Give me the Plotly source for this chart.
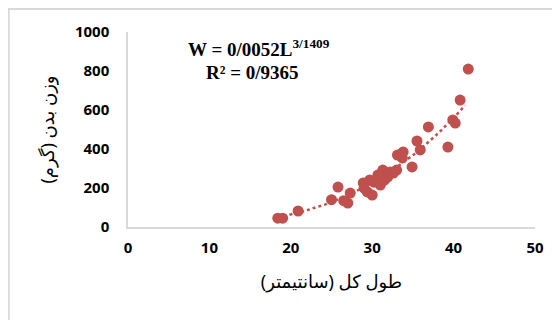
import numpy as np
import plotly.graph_objects as go

length_cm = [18.4, 19.0, 20.9, 25.0, 25.8, 26.5, 27.0, 27.3, 28.9, 29.0, 29.4, 29.7, 30.0, 30.2,
             30.7, 31.0, 31.3, 31.5, 31.9, 32.2, 32.6, 33.0, 33.1, 33.8, 33.7, 34.9, 35.5, 35.9,
             36.9, 39.3, 39.9, 40.2, 40.8, 41.8]
weight_g = [45, 45, 82, 140, 205, 135, 123, 174, 226, 200, 180, 241, 164, 230,
            267, 215, 292, 240, 256, 282, 277, 292, 369, 385, 354, 308, 441, 395,
            513, 410, 549, 533, 651, 810]
fit_a = 0.0052
fit_b = 3.1409
x_ticks = [0, 10, 20, 30, 40, 50]
y_ticks = [0, 200, 400, 600, 800, 1000]

red = "#C0504D"
lx = np.linspace(min(length_cm), 41.4, 60)
ly = fit_a * lx ** fit_b

fig = go.Figure()
fig.add_trace(go.Scatter(x=lx, y=ly, mode="lines",
                         line=dict(color=red, width=2.5, dash="dot"), hoverinfo="skip"))
fig.add_trace(go.Scatter(x=length_cm, y=weight_g, mode="markers",
                         marker=dict(color=red, size=11, line=dict(width=0))))

tick_font = dict(family="Open Sans, DejaVu Sans, sans-serif", size=15, color="#000000",
                 weight="bold")
title_font = dict(family="Noto Sans, DejaVu Sans", size=18, color="#000")
fig.update_layout(
    width=560, height=320,
    margin=dict(l=120, r=33, t=24, b=101),
    paper_bgcolor="white", plot_bgcolor="white",
    showlegend=False,
    xaxis=dict(range=[0, 50], tickvals=x_ticks, showgrid=False, zeroline=False,
               showline=True, linecolor="#d9d9d9", linewidth=1.5, ticks="",
               tickfont=tick_font, ticklabelstandoff=6, fixedrange=True,
               title=dict(text="طول کل (سانتیمتر)", standoff=20, font=title_font)),
    yaxis=dict(range=[0, 1000], tickvals=y_ticks, showgrid=False, zeroline=False,
               showline=True, linecolor="#d9d9d9", linewidth=1.5, ticks="",
               tickfont=tick_font, ticklabelstandoff=14, fixedrange=True,
               title=dict(text="وزن بدن (گرم)", standoff=16, font=title_font)),
    shapes=[dict(type="rect", xref="paper", yref="paper", x0=-0.293, x1=1.1,
                 y0=-0.6, y1=1.118, line=dict(color="#d9d9d9", width=2), layer="below")],
    annotations=[
        dict(xref="paper", yref="paper", x=0.322, y=0.918, xanchor="center", yanchor="middle",
             showarrow=False,
             text="<b>W = 0/0052L<sup>3/1409</sup></b>",
             font=dict(family="Liberation Serif, Times New Roman, serif", size=19, color="#000")),
        dict(xref="paper", yref="paper", x=0.305, y=0.79, xanchor="center", yanchor="middle",
             showarrow=False,
             text="<b>R² = 0/9365</b>",
             font=dict(family="Liberation Serif, Times New Roman, serif", size=19, color="#000")),
    ],
)
fig.write_html("out.html")
